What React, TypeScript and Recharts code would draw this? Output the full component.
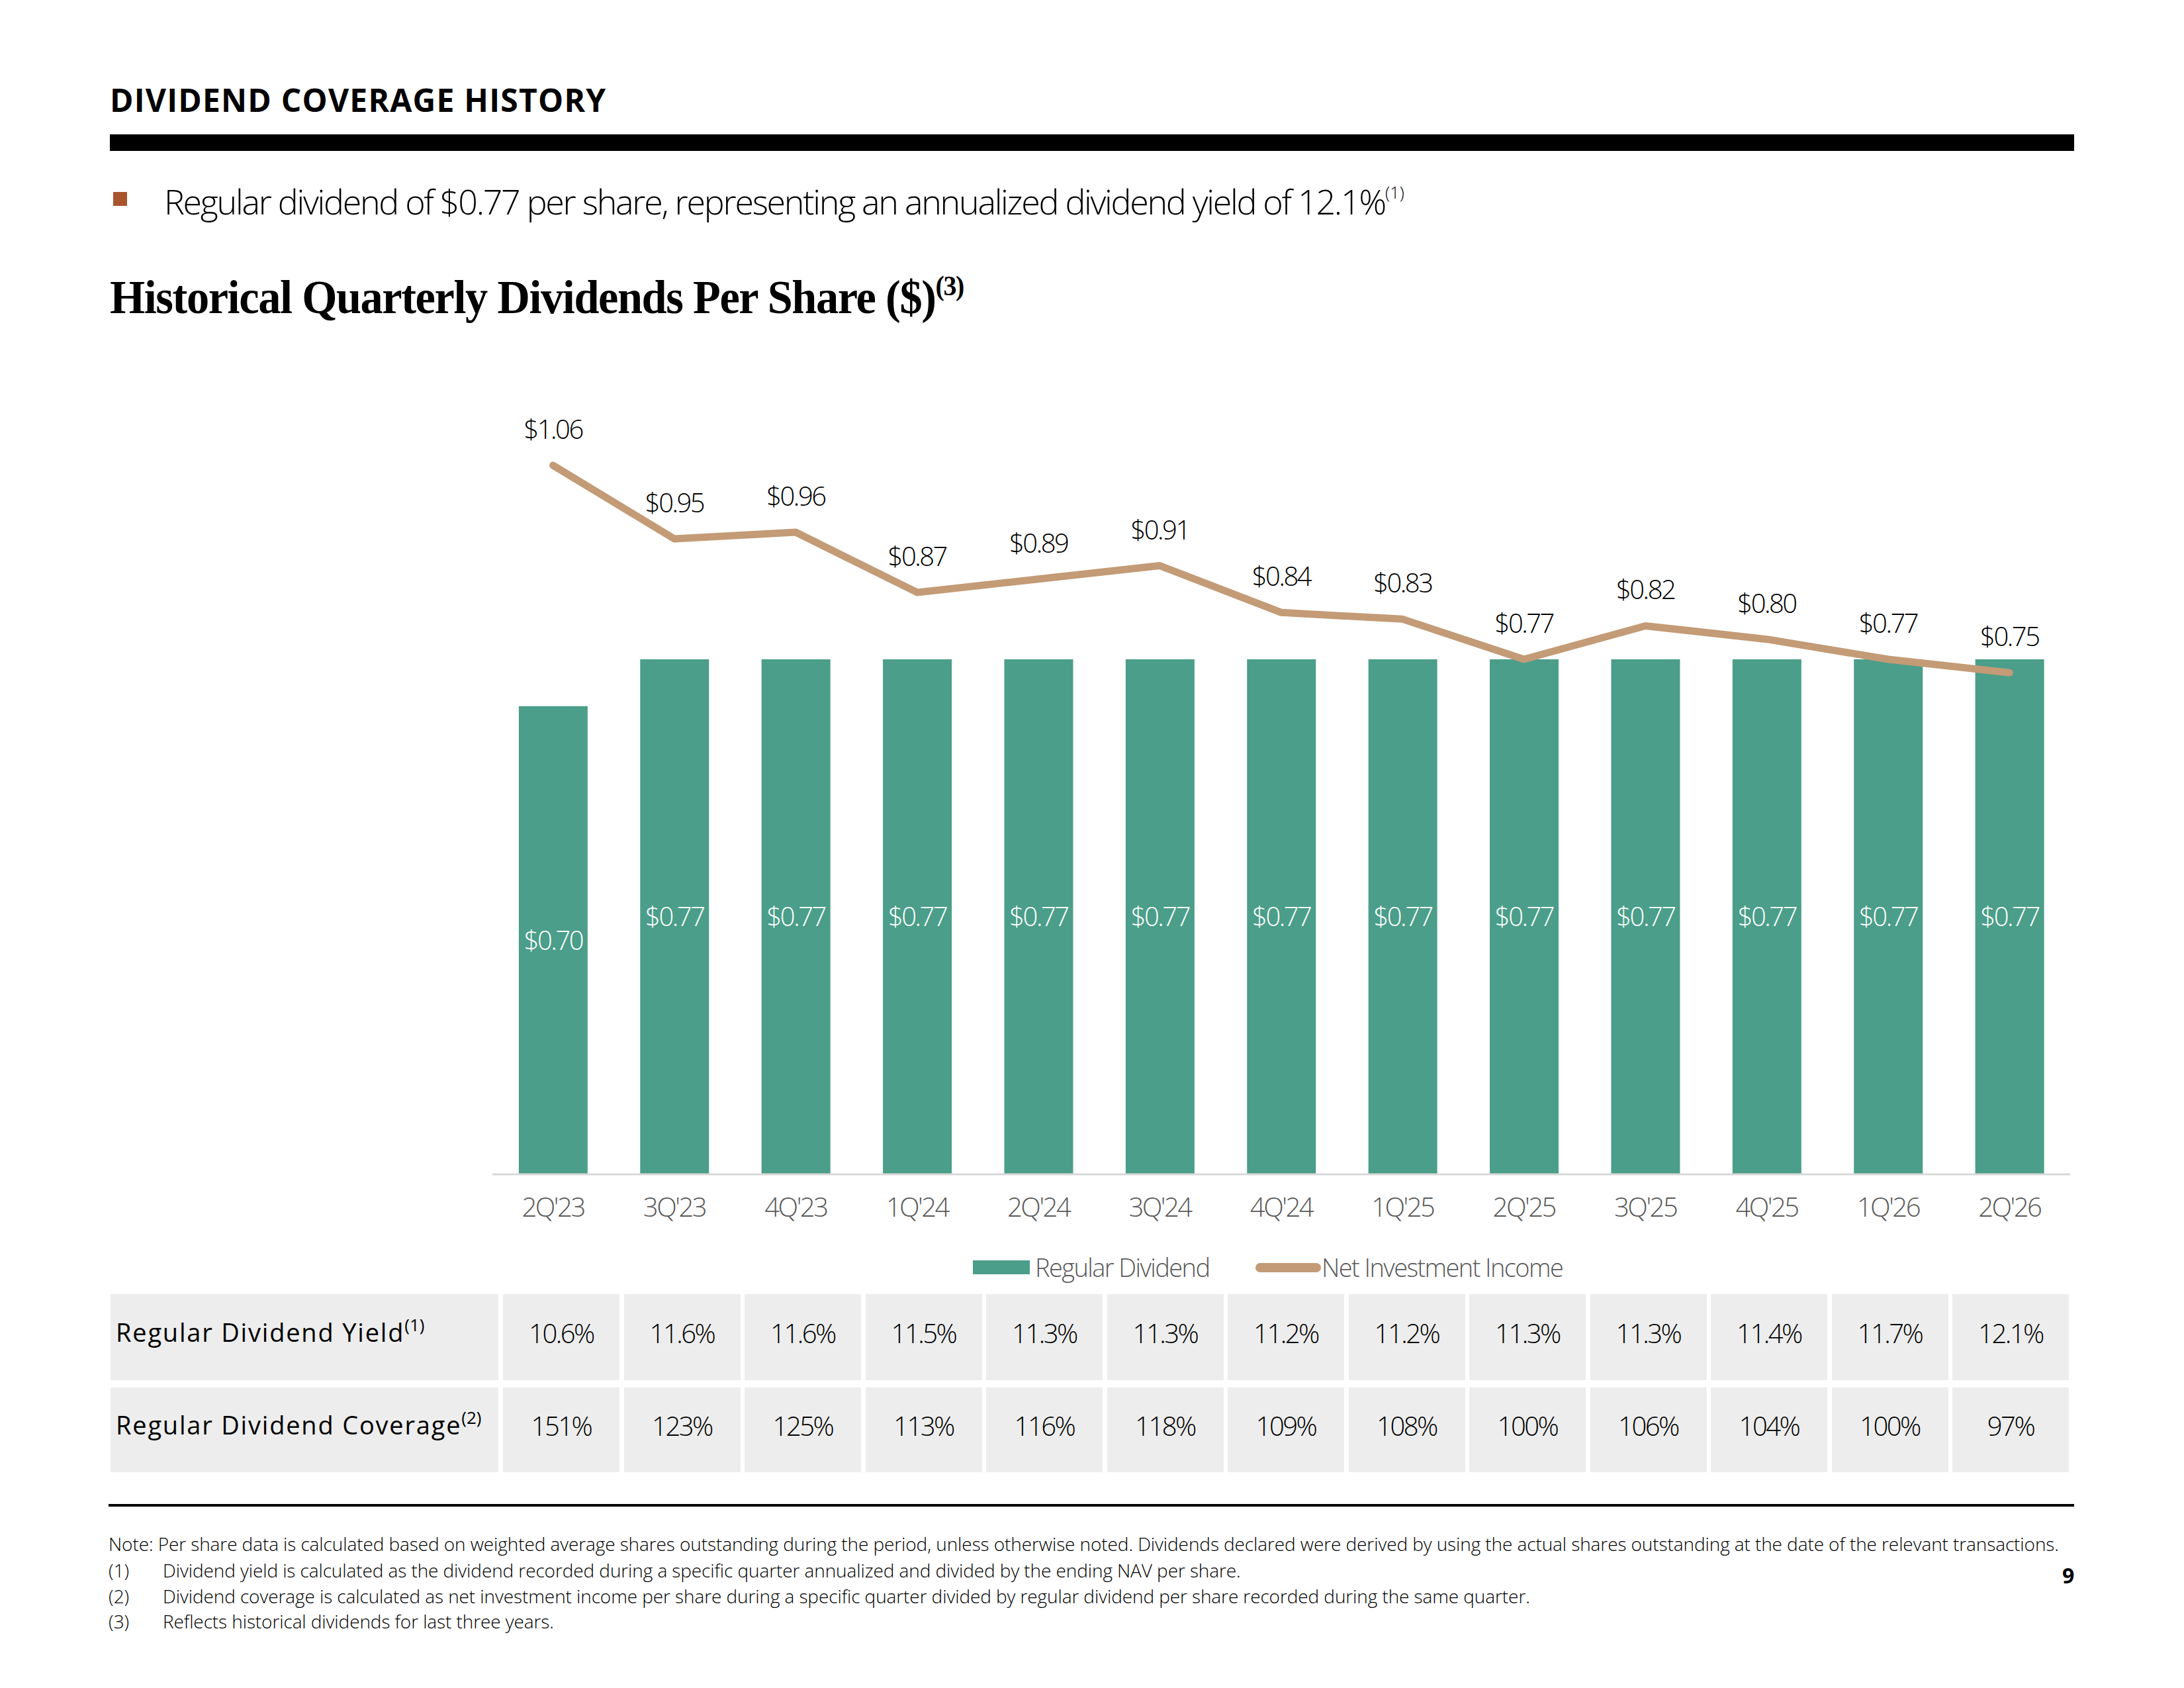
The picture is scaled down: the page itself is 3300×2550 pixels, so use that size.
import React from "react";
import { ComposedChart, Bar, Line, XAxis, YAxis, LabelList } from "recharts";

const quarters = ["2Q'23", "3Q'23", "4Q'23", "1Q'24", "2Q'24", "3Q'24", "4Q'24", "1Q'25", "2Q'25", "3Q'25", "4Q'25", "1Q'26", "2Q'26"];
const regularDividend = [0.7, 0.77, 0.77, 0.77, 0.77, 0.77, 0.77, 0.77, 0.77, 0.77, 0.77, 0.77, 0.77];
const netInvestmentIncome = [1.06, 0.95, 0.96, 0.87, 0.89, 0.91, 0.84, 0.83, 0.77, 0.82, 0.8, 0.77, 0.75];
const dividendYield = ["10.6%", "11.6%", "11.6%", "11.5%", "11.3%", "11.3%", "11.2%", "11.2%", "11.3%", "11.3%", "11.4%", "11.7%", "12.1%"];
const dividendCoverage = ["151%", "123%", "125%", "113%", "116%", "118%", "109%", "108%", "100%", "106%", "104%", "100%", "97%"];
const footnotes = [
  "Dividend yield is calculated as the dividend recorded during a specific quarter annualized and divided by the ending NAV per share.",
  "Dividend coverage is calculated as net investment income per share during a specific quarter divided by regular dividend per share recorded during the same quarter.",
  "Reflects historical dividends for last three years.",
];

const data = quarters.map((q, i) => ({
  quarter: q,
  regular: regularDividend[i],
  nii: netInvestmentIncome[i],
}));

const GREEN = "#4B9E89";
const TAN = "#C39B76";
const SANS = "'Open Sans', sans-serif";
const fmt = (v: any) => `$${Number(v).toFixed(2)}`;

// table geometry
const firstCellLeft = 167;
const firstCellWidth = 586;
const cellLeft0 = 760;
const cellPitch = 182.5;
const cellWidth = 176;
const rows = [
  { label: "Regular Dividend Yield", note: "(1)", values: dividendYield, top: 1955, height: 130 },
  { label: "Regular Dividend Coverage", note: "(2)", values: dividendCoverage, top: 2096, height: 128 },
];

const abs = (s: React.CSSProperties): React.CSSProperties => ({ position: "absolute", ...s });

export default function App() {
  return (
    <div style={abs({ left: 0, top: 0, width: 3300, height: 2550, background: "#fff", overflow: "hidden", fontFamily: SANS })}>
      {/* page header */}
      <div style={abs({ left: 166, top: 118, fontSize: 48, fontWeight: 700, color: "#000", letterSpacing: 1.2, whiteSpace: "nowrap" })}>
        DIVIDEND COVERAGE HISTORY
      </div>
      <div style={abs({ left: 166, top: 203, width: 2968, height: 25, background: "#000" })} />

      <div style={abs({ left: 171, top: 290, width: 21, height: 21, background: "#A8552D" })} />
      <div style={abs({ left: 248, top: 268, fontSize: 52, fontWeight: 300, color: "#000", letterSpacing: -2.3, whiteSpace: "nowrap" })}>
        Regular dividend of $0.77 per share, representing an annualized dividend yield of 12.1%
        <sup style={{ fontSize: 26, letterSpacing: 0, position: "relative", top: -6 }}>(1)</sup>
      </div>

      <div
        style={abs({
          left: 166,
          top: 408,
          fontSize: 72,
          fontWeight: 700,
          fontFamily: "'Liberation Serif', serif",
          color: "#000",
          whiteSpace: "nowrap",
          letterSpacing: -1.5,
          transform: "scaleX(0.95)",
          transformOrigin: "left top",
        })}
      >
        Historical Quarterly Dividends Per Share ($)
        <sup style={{ fontSize: 42, position: "relative", top: -2 }}>(3)</sup>
      </div>

      {/* chart */}
      <div style={abs({ left: 700, top: 500 })}>
        <ComposedChart width={2500} height={1450} data={data} margin={{ top: 61.5, right: 72, left: 43.9, bottom: 116 }}>
          <XAxis
            dataKey="quarter"
            interval={0}
            height={60}
            tickLine={false}
            tickMargin={30}
            axisLine={{ stroke: "#D9D9D9", strokeWidth: 3 }}
            tick={{ fill: "#595959", fontSize: 40, fontFamily: SANS, fontWeight: 300, letterSpacing: -2.5 }}
          />
          <YAxis hide domain={[0, 1.2]} />
          <Bar dataKey="regular" name="Regular Dividend" fill={GREEN} barSize={104} isAnimationActive={false}>
            <LabelList
              dataKey="regular"
              position="center"
              formatter={fmt}
              fill="#FFFFFF"
              style={{ fontSize: 40, fontFamily: SANS, fontWeight: 300, letterSpacing: -2.5 }}
            />
          </Bar>
          <Line
            dataKey="nii"
            name="Net Investment Income"
            stroke={TAN}
            strokeWidth={11}
            strokeLinecap="round"
            strokeLinejoin="round"
            dot={false}
            activeDot={false}
            isAnimationActive={false}
          >
            <LabelList
              dataKey="nii"
              position="top"
              offset={40}
              formatter={fmt}
              fill="#000000"
              style={{ fontSize: 40, fontFamily: SANS, fontWeight: 300, letterSpacing: -2.5 }}
            />
          </Line>
        </ComposedChart>
      </div>

      {/* legend */}
      <div style={abs({ left: 1470, top: 1904, width: 86, height: 21, background: GREEN })} />
      <div style={abs({ left: 1564, top: 1888, fontSize: 38, fontWeight: 300, color: "#595959", letterSpacing: -1.6, whiteSpace: "nowrap" })}>
        Regular Dividend
      </div>
      <div style={abs({ left: 1897, top: 1908, width: 99, height: 14, borderRadius: 7, background: TAN })} />
      <div style={abs({ left: 1997, top: 1888, fontSize: 38, fontWeight: 300, color: "#595959", letterSpacing: -1.6, whiteSpace: "nowrap" })}>
        Net Investment Income
      </div>

      {/* table */}
      {rows.map((r) => (
        <React.Fragment key={r.label}>
          <div style={abs({ left: firstCellLeft, top: r.top, width: firstCellWidth, height: r.height, background: "#EDEDED" })} />
          {r.values.map((_, i) => (
            <div
              key={`bg${i}`}
              style={abs({ left: cellLeft0 + i * cellPitch, top: r.top, width: cellWidth, height: r.height, background: "#EDEDED" })}
            />
          ))}
          <div
            style={abs({
              left: firstCellLeft + 8,
              top: r.top + r.height / 2 - 34,
              lineHeight: "52px",
              fontSize: 38,
              color: "#000",
              letterSpacing: 1.8,
              whiteSpace: "nowrap",
            })}
          >
            {r.label}
            <sup style={{ fontSize: 26, position: "relative", top: -2, letterSpacing: 0, lineHeight: 0 }}>{r.note}</sup>
          </div>
          {r.values.map((v, i) => (
            <div
              key={i}
              style={abs({
                left: cellLeft0 + i * cellPitch,
                top: r.top - 6,
                width: cellWidth,
                height: r.height,
                lineHeight: `${r.height}px`,
                textAlign: "center",
                fontSize: 40,
                fontWeight: 300,
                letterSpacing: -2.5,
                color: "#000",
              })}
            >
              {v}
            </div>
          ))}
        </React.Fragment>
      ))}

      {/* footer */}
      <div style={abs({ left: 164, top: 2272, width: 2970, height: 4, background: "#000" })} />
      <div style={abs({ left: 164, top: 2313, fontSize: 28, fontWeight: 300, color: "#000", letterSpacing: -0.1, whiteSpace: "nowrap" })}>
        Note: Per share data is calculated based on weighted average shares outstanding during the period, unless otherwise noted. Dividends declared were derived by using the actual shares outstanding at the date of the relevant transactions.
      </div>
      {footnotes.map((f, i) => (
        <React.Fragment key={i}>
          <div style={abs({ left: 164, top: 2353 + i * 38.5, fontSize: 28, fontWeight: 300, color: "#000", whiteSpace: "nowrap" })}>
            ({i + 1})
          </div>
          <div style={abs({ left: 246, top: 2353 + i * 38.5, fontSize: 28, fontWeight: 300, color: "#000", letterSpacing: -0.1, whiteSpace: "nowrap" })}>
            {f}
          </div>
        </React.Fragment>
      ))}
      <div style={abs({ left: 3116, top: 2358, fontSize: 32, fontWeight: 700, color: "#000" })}>9</div>
    </div>
  );
}
